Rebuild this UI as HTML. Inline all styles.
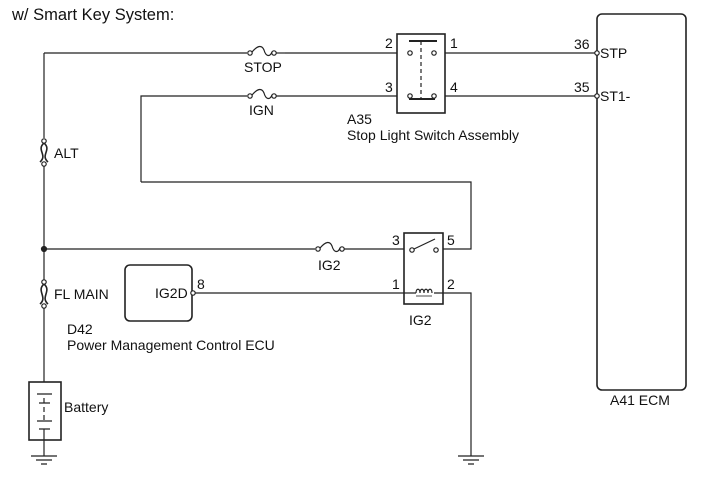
<!DOCTYPE html>
<html><head><style>
body{margin:0;background:#fff;}
svg text{font-family:"Liberation Sans",sans-serif;font-size:14px;fill:#111;}
</style></head><body>
<svg width="713" height="481" viewBox="0 0 713 481" xmlns="http://www.w3.org/2000/svg">
<g stroke="#222" stroke-width="1.2" fill="none">
<path d="M44 53 H247 M285 53 H397"/>
<path d="M44 53 V138 M44 166 V280 M44 308 V382"/>
<circle cx="44" cy="141" r="2.2" fill="#fff"/><circle cx="44" cy="164" r="2.2" fill="#fff"/>
<path d="M44 143 C36 150 48 155 40 162 M44 143 C52 150 40 155 48 162" stroke-width="1.6"/>
<circle cx="44" cy="282" r="2.2" fill="#fff"/><circle cx="44" cy="306" r="2.2" fill="#fff"/>
<path d="M44 284 C36 291 48 297 40 304 M44 284 C52 291 40 297 48 304" stroke-width="1.6"/>
<circle cx="250" cy="53" r="2.2" fill="#fff"/><circle cx="274" cy="53" r="2.2" fill="#fff"/>
<path d="M252 52 C258 45 262 45 264 50 C266 57 270 57 272 52"/>
<path d="M276 53 H285"/>
<path d="M141 182 V96 H247 M276 96 H397"/>
<circle cx="250" cy="96" r="2.2" fill="#fff"/><circle cx="274" cy="96" r="2.2" fill="#fff"/>
<path d="M252 95 C258 88 262 88 264 93 C266 100 270 100 272 95"/>
<path d="M141 182 H471 V249 H443"/>
<rect x="397" y="34" width="48" height="79" stroke-width="1.6"/>
<path d="M409 41 H437" stroke-width="2"/>
<path d="M421 41 V99" stroke-dasharray="4 3"/>
<path d="M409 99 H435" stroke-width="2"/>
<circle cx="410" cy="53" r="2.2" fill="#fff"/><circle cx="434" cy="53" r="2.2" fill="#fff"/>
<circle cx="410" cy="96" r="2.2" fill="#fff"/><circle cx="434" cy="96" r="2.2" fill="#fff"/>
<path d="M445 53 H597 M445 96 H597"/>
<rect x="597" y="14" width="89" height="376" rx="5" stroke-width="1.6"/>
<circle cx="597" cy="53" r="2.2" fill="#fff"/><circle cx="597" cy="96" r="2.2" fill="#fff"/>
<path d="M44 249 H315 M341 249 H404"/>
<circle cx="318" cy="249" r="2.2" fill="#fff"/><circle cx="342" cy="249" r="2.2" fill="#fff"/>
<path d="M320 248 C326 241 330 241 332 246 C334 253 338 253 340 248"/>
<circle cx="44" cy="249" r="2.5" fill="#222"/>
<rect x="404" y="233" width="39" height="71" stroke-width="1.6"/>
<circle cx="412" cy="250" r="2.2" fill="#fff"/><circle cx="436" cy="250" r="2.2" fill="#fff"/>
<path d="M414 249 L435 239"/>
<path d="M404 293 H416 M434 293 H471 V456"/>
<path d="M416 293 c0-5 4-5 4 0 c0-5 4-5 4 0 c0-5 4-5 4 0 c0-5 4-5 4 0" />
<path d="M416 296 H432" stroke-width="0.8"/>
<rect x="125" y="265" width="67" height="56" rx="5" stroke-width="1.6"/>
<circle cx="193" cy="293" r="2.2" fill="#fff"/>
<path d="M195 293 H404"/>
<rect x="29" y="382" width="32" height="58" stroke-width="1.6"/>
<path d="M37 394 H52 M39 403 H50 M37 421 H52 M39 429 H50" />
<path d="M44 398 V403 M44 407 V412 M44 415 V420 M44 429 V456"/>
<path d="M31 456 H57 M36 460 H52 M41 464 H47"/>
<path d="M458 456 H484 M463 460 H479 M468 464 H474"/>
</g>
<text x="12" y="20" style="font-size:16.5px">w/ Smart Key System:</text>
<text x="244" y="72">STOP</text>
<text x="249" y="115">IGN</text>
<text x="54" y="158">ALT</text>
<text x="54" y="299">FL MAIN</text>
<text x="385" y="48">2</text>
<text x="450" y="48">1</text>
<text x="385" y="92">3</text>
<text x="450" y="92">4</text>
<text x="347" y="124">A35</text>
<text x="347" y="140">Stop Light Switch Assembly</text>
<text x="574" y="49">36</text>
<text x="574" y="92">35</text>
<text x="600" y="58">STP</text>
<text x="600" y="101">ST1-</text>
<text x="318" y="270">IG2</text>
<text x="392" y="245">3</text>
<text x="447" y="245">5</text>
<text x="392" y="289">1</text>
<text x="447" y="289">2</text>
<text x="409" y="325">IG2</text>
<text x="155" y="298">IG2D</text>
<text x="197" y="289">8</text>
<text x="67" y="334">D42</text>
<text x="67" y="350">Power Management Control ECU</text>
<text x="64" y="412">Battery</text>
<text x="610" y="405">A41 ECM</text>
</svg>
</body></html>
